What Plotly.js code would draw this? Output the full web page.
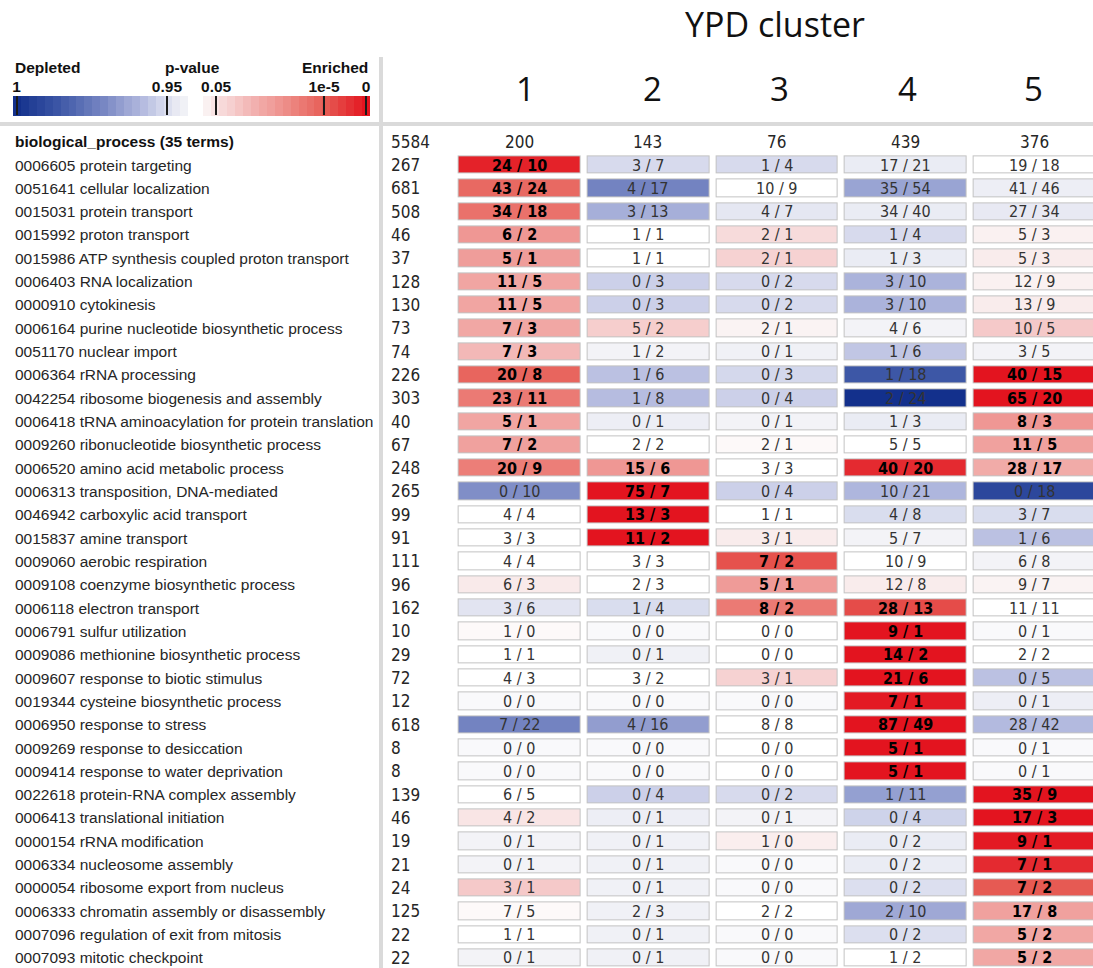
<!DOCTYPE html>
<html>
<head>
<meta charset="utf-8">
<script src="https://cdn.plot.ly/plotly-3.0.1.min.js"></script>
<style>html,body{margin:0;padding:0;background:#fff;}#chart{width:1093px;height:968px;}</style>
</head>
<body>
<div id="chart"></div>
<script>
// ---------- DATA ----------
const headerLabel = 'biological_process (35 terms)';
const genomeSize = 5584;
const clusters = [1, 2, 3, 4, 5];
const clusterSizes = [200, 143, 76, 439, 376];

const terms = [
  '0006605 protein targeting',
  '0051641 cellular localization',
  '0015031 protein transport',
  '0015992 proton transport',
  '0015986 ATP synthesis coupled proton transport',
  '0006403 RNA localization',
  '0000910 cytokinesis',
  '0006164 purine nucleotide biosynthetic process',
  '0051170 nuclear import',
  '0006364 rRNA processing',
  '0042254 ribosome biogenesis and assembly',
  '0006418 tRNA aminoacylation for protein translation',
  '0009260 ribonucleotide biosynthetic process',
  '0006520 amino acid metabolic process',
  '0006313 transposition, DNA-mediated',
  '0046942 carboxylic acid transport',
  '0015837 amine transport',
  '0009060 aerobic respiration',
  '0009108 coenzyme biosynthetic process',
  '0006118 electron transport',
  '0006791 sulfur utilization',
  '0009086 methionine biosynthetic process',
  '0009607 response to biotic stimulus',
  '0019344 cysteine biosynthetic process',
  '0006950 response to stress',
  '0009269 response to desiccation',
  '0009414 response to water deprivation',
  '0022618 protein-RNA complex assembly',
  '0006413 translational initiation',
  '0000154 rRNA modification',
  '0006334 nucleosome assembly',
  '0000054 ribosome export from nucleus',
  '0006333 chromatin assembly or disassembly',
  '0007096 regulation of exit from mitosis',
  '0007093 mitotic checkpoint'
];
const termTotals = [267,681,508,46,37,128,130,73,74,226,303,40,67,248,265,99,91,111,96,162,10,29,72,12,618,8,8,139,46,19,21,24,125,22,22];

// observed / expected counts per cluster
const obs1 = [24,43,34,6,5,11,11,7,7,20,23,5,7,20,0,4,3,4,6,3,1,1,4,0,7,0,0,6,4,0,0,3,7,1,0];
const exp1 = [10,24,18,2,1,5,5,3,3,8,11,1,2,9,10,4,3,4,3,6,0,1,3,0,22,0,0,5,2,1,1,1,5,1,1];
const obs2 = [3,4,3,1,1,0,0,5,1,1,1,0,2,15,75,13,11,3,2,1,0,0,3,0,4,0,0,0,0,0,0,0,2,0,0];
const exp2 = [7,17,13,1,1,3,3,2,2,6,8,1,2,6,7,3,2,3,3,4,0,1,2,0,16,0,0,4,1,1,1,1,3,1,1];
const obs3 = [1,10,4,2,2,0,0,2,0,0,0,0,2,3,0,1,3,7,5,8,0,0,3,0,8,0,0,0,0,1,0,0,2,0,0];
const exp3 = [4,9,7,1,1,2,2,1,1,3,4,1,1,3,4,1,1,2,1,2,0,0,1,0,8,0,0,2,1,0,0,0,2,0,0];
const obs4 = [17,35,34,1,1,3,3,4,1,1,2,1,5,40,10,4,5,10,12,28,9,14,21,7,87,5,5,1,0,0,0,0,2,0,1];
const exp4 = [21,54,40,4,3,10,10,6,6,18,24,3,5,20,21,8,7,9,8,13,1,2,6,1,49,1,1,11,4,2,2,2,10,2,2];
const obs5 = [19,41,27,5,5,12,13,10,3,40,65,8,11,28,0,3,1,6,9,11,0,2,0,0,28,0,0,35,17,9,7,7,17,5,5];
const exp5 = [18,46,34,3,3,9,9,5,5,15,20,3,5,17,18,7,6,8,7,11,1,2,5,1,42,1,1,9,3,1,1,2,8,2,2];

// signed enrichment score (-1 depleted ... +1 enriched)
const score1 = [0.95,0.68,0.64,0.45,0.42,0.38,0.38,0.37,0.28,0.7,0.6,0.38,0.4,0.58,-0.45,0,0,0,0.06,-0.08,0.01,0,0,-0.01,-0.5,-0.01,-0.01,0,0.08,-0.02,-0.02,0.2,0.01,0,-0.02];
const score2 = [-0.12,-0.5,-0.3,0,0,-0.16,-0.16,0.18,-0.02,-0.22,-0.24,-0.04,0,0.45,1,1,1,0,0,-0.11,-0.01,-0.03,0,-0.01,-0.38,-0.01,-0.01,-0.16,-0.04,-0.03,-0.03,-0.03,-0.03,-0.03,-0.03];
const score3 = [-0.12,0,-0.07,0.12,0.16,-0.12,-0.12,0.02,-0.03,-0.13,-0.16,-0.02,0.01,0,-0.16,0,0.05,0.78,0.43,0.6,0,0,0.16,-0.01,0,0,0,-0.12,-0.02,0.04,-0.01,-0.01,0,-0.01,-0.01];
const score4 = [-0.05,-0.35,-0.05,-0.12,-0.05,-0.28,-0.28,-0.02,-0.2,-0.75,-1,-0.05,0,0.92,-0.27,-0.11,-0.02,0,0.05,0.8,1,1,1,0.98,1,1,1,-0.37,-0.15,-0.05,-0.05,-0.1,-0.33,-0.1,0];
const score5 = [0,-0.04,-0.06,0.03,0.05,0.03,0.05,0.2,-0.02,1,1,0.45,0.4,0.35,-0.85,-0.11,-0.22,-0.02,0.02,0,-0.01,0,-0.22,-0.04,-0.25,-0.01,-0.01,1,1,0.98,0.92,0.75,0.4,0.37,0.37];

// legend (p-value colour key)
const legendSteps = [-1,-0.95,-0.9,-0.86,-0.81,-0.76,-0.71,-0.67,-0.62,-0.57,-0.52,-0.48,-0.43,-0.38,-0.33,-0.29,-0.24,-0.19,-0.14,-0.1,-0.06,-0.03,
  0,0,
  0.03,0.08,0.13,0.17,0.22,0.27,0.32,0.37,0.41,0.46,0.51,0.56,0.61,0.65,0.7,0.75,0.8,0.85,0.9,0.95,1.0];
const legendTickPos = [0.45, 19.4, 25.6, 39.2, 44.5];
const legendTickText = ['1', '0.95', '0.05', '1e-5', '0'];

// ---------- BUILD ----------
const W = 1093, H = 968;
const obs = [obs1, obs2, obs3, obs4, obs5];
const exp = [exp1, exp2, exp3, exp4, exp5];
const scores = [score1, score2, score3, score4, score5];
const rowIdx = terms.map((_, i) => i);

const z = rowIdx.map(r => clusters.map((_, c) => scores[c][r]));
const zBorder = rowIdx.map(() => clusters.map(() => 1));

const colorscale = [
  [0, '#13308c'], [0.125, '#3d57a6'], [0.25, '#7383c1'], [0.375, '#b3badf'],
  [0.45, '#dcdfef'], [0.49, '#f3f3f7'], [0.5, '#ffffff'], [0.51, '#faf3f3'],
  [0.55, '#f8e0e0'], [0.625, '#f4bebd'], [0.7, '#f0a19e'], [0.8, '#eb7a74'],
  [0.875, '#e65a53'], [1, '#e3141f']
];

// axis placement (pixels)
const rowPitch = 23.32, row0 = 165;
const colPitch = 128.75, col1 = 519;
const xLeftPx = col1 - colPitch / 2;
const yRange = [(H - row0) / rowPitch, -row0 / rowPitch];
const xRange = [0.5, 0.5 + (W - xLeftPx) / colPitch];
const yAt = px => (px - row0) / rowPitch;
const headerShift = [6, 5, 3, 2, -1];

const narrow = '"Liberation Sans Narrow", "Arial Narrow", "DejaVu Sans Condensed", sans-serif';
const sans = '"Liberation Sans", Arial, sans-serif';

const traces = [
  {
    type: 'heatmap', x: clusters, y: rowIdx, z: zBorder,
    colorscale: [[0, '#c3c3c3'], [1, '#c3c3c3']], showscale: false,
    xgap: 6, ygap: 5, hoverinfo: 'skip', xaxis: 'x', yaxis: 'y'
  },
  {
    type: 'heatmap', x: clusters, y: rowIdx, z: z,
    colorscale: colorscale, zmin: -1, zmax: 1, showscale: false,
    xgap: 8, ygap: 7, hoverinfo: 'skip', xaxis: 'x', yaxis: 'y'
  },
  {
    type: 'heatmap', x: legendSteps.map((_, i) => i + 0.5), y: [0.5], z: [legendSteps],
    colorscale: colorscale, zmin: -1, zmax: 1, showscale: false,
    hoverinfo: 'skip', xaxis: 'x2', yaxis: 'y2'
  }
];

const ann = [];
terms.forEach((t, r) => {
  ann.push({ xref: 'paper', yref: 'y', x: 13 / W, y: r, xanchor: 'left', yanchor: 'middle',
    text: t, showarrow: false, font: { family: sans, size: 15.5, color: '#262626' } });
  ann.push({ xref: 'paper', yref: 'y', x: 389 / W, y: r, xanchor: 'left', yanchor: 'middle',
    text: String(termTotals[r]), showarrow: false, font: { family: narrow, size: 17, color: '#262626' } });
  clusters.forEach((c, ci) => {
    const sig = scores[ci][r] >= 0.25;
    const txt = obs[ci][r] + ' / ' + exp[ci][r];
    ann.push({ xref: 'x', yref: 'y', x: c, y: r, xanchor: 'center', yanchor: 'middle', showarrow: false,
      text: sig ? '<b>' + txt + '</b>' : txt,
      font: { family: narrow, size: 16, color: sig ? '#000' : '#333' } });
  });
});
ann.push({ xref: 'paper', yref: 'y', x: 13 / W, y: -1, xanchor: 'left', yanchor: 'middle',
  text: '<b>' + headerLabel + '</b>', showarrow: false, font: { family: sans, size: 15.5, color: '#111' } });
ann.push({ xref: 'paper', yref: 'y', x: 389 / W, y: -1, xanchor: 'left', yanchor: 'middle',
  text: String(genomeSize), showarrow: false, font: { family: narrow, size: 17, color: '#262626' } });
clusters.forEach((c, ci) => {
  ann.push({ xref: 'x', yref: 'y', x: c, y: -1, xanchor: 'center', yanchor: 'middle',
    text: String(clusterSizes[ci]), showarrow: false, font: { family: narrow, size: 17, color: '#262626' } });
  ann.push({ xref: 'x', yref: 'y', x: c, y: yAt(88), xanchor: 'center', yanchor: 'middle', xshift: headerShift[ci],
    text: String(c), showarrow: false, font: { family: '"Open Sans", sans-serif', size: 33, color: '#111' } });
});
const legFont = { family: sans, size: 15.5, color: '#111', weight: 'bold' };
ann.push({ xref: 'paper', yref: 'paper', x: 13 / W, y: 1 - 67 / H, xanchor: 'left', yanchor: 'middle',
  text: '<b>Depleted</b>', showarrow: false, font: legFont });
ann.push({ xref: 'paper', yref: 'paper', x: 192 / W, y: 1 - 67 / H, xanchor: 'center', yanchor: 'middle',
  text: '<b>p-value</b>', showarrow: false, font: legFont });
ann.push({ xref: 'paper', yref: 'paper', x: 370 / W, y: 1 - 67 / H, xanchor: 'right', yanchor: 'middle',
  text: '<b>Enriched</b>', showarrow: false, font: legFont });

const shapes = [
  { type: 'rect', xref: 'paper', yref: 'paper', x0: 379 / W, x1: 383 / W, y0: 0, y1: 1 - 57 / H,
    fillcolor: '#dadada', line: { width: 0 }, layer: 'below' },
  { type: 'rect', xref: 'paper', yref: 'paper', x0: 0, x1: 1, y0: 1 - 126 / H, y1: 1 - 122 / H,
    fillcolor: '#dadada', line: { width: 0 }, layer: 'below' }
];

const layout = {
  width: W, height: H,
  margin: { l: 0, r: 0, t: 0, b: 0, pad: 0 },
  paper_bgcolor: '#fff', plot_bgcolor: 'rgba(0,0,0,0)',
  showlegend: false,
  title: { text: 'YPD cluster', x: 775 / W, xanchor: 'center', xref: 'paper',
    y: 1 - 25 / H, yanchor: 'middle', yref: 'paper',
    font: { family: '"Open Sans", sans-serif', size: 34, color: '#111' } },
  xaxis: { domain: [xLeftPx / W, 1], range: xRange, visible: false, fixedrange: true },
  yaxis: { domain: [0, 1], range: yRange, visible: false, fixedrange: true },
  xaxis2: { domain: [13 / W, 370 / W], range: [0, legendSteps.length], anchor: 'y2',
    side: 'top', showgrid: false, zeroline: false, showline: false,
    ticks: 'inside', ticklen: 19, tickwidth: 2, tickcolor: '#1a1a1a',
    tickmode: 'array', tickvals: legendTickPos, ticktext: legendTickText,
    tickfont: { family: sans, size: 15.5, color: '#111', weight: 'bold' }, fixedrange: true },
  yaxis2: { domain: [1 - 116 / H, 1 - 96 / H], range: [0, 1], anchor: 'x2', visible: false, fixedrange: true },
  annotations: ann,
  shapes: shapes
};

Plotly.newPlot('chart', traces, layout, { staticPlot: true, displayModeBar: false });
</script>
</body>
</html>
